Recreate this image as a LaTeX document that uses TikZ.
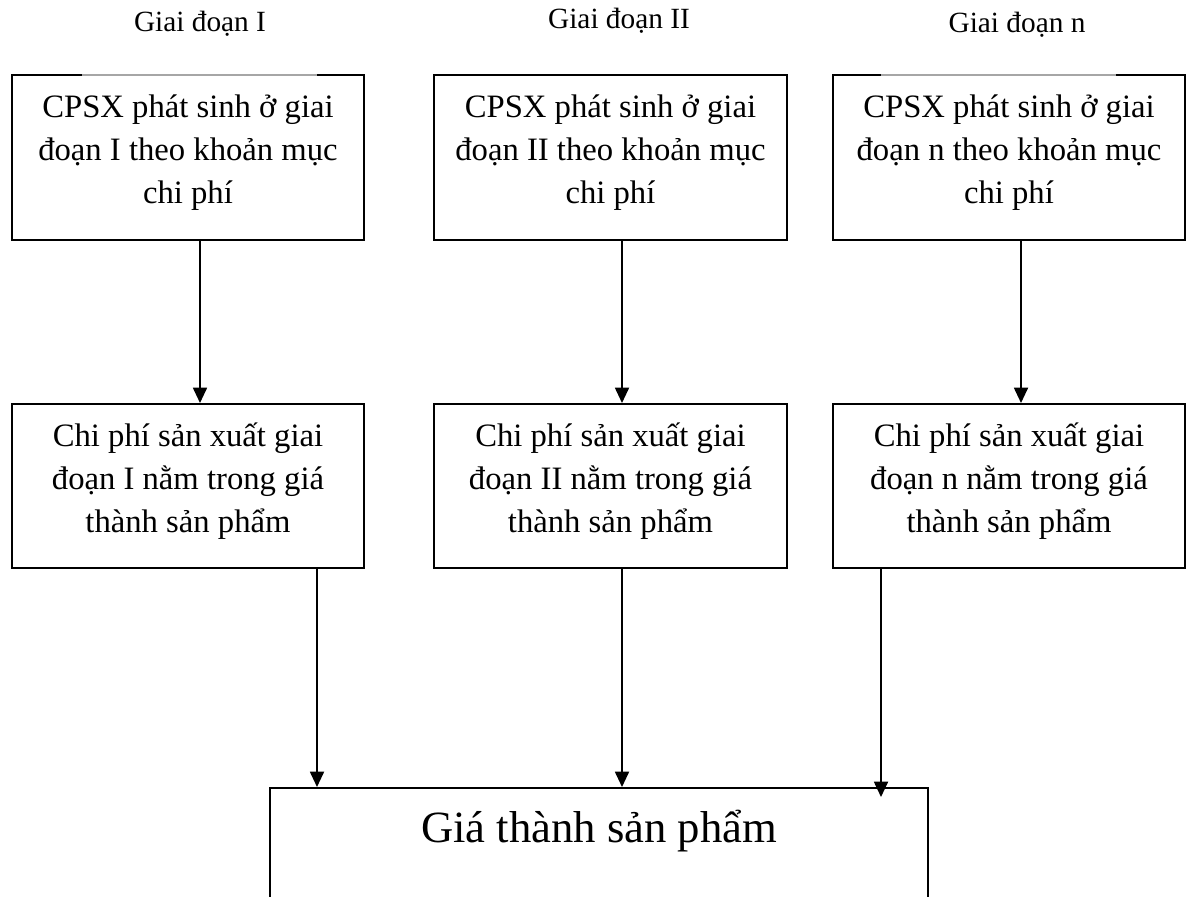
\documentclass[tikz,border=0pt]{standalone}
\usepackage{fontspec}
\setmainfont{Liberation Serif}
\usetikzlibrary{arrows.meta}
\newlength\pxu
\setlength\pxu{0.75pt}

\begin{document}
\begin{tikzpicture}[x=0.75pt, y=-0.75pt,
  box/.style={draw=black, line width=2*\pxu, rectangle, inner sep=0pt},
  stagebox/.style={box, minimum width=352*\pxu, minimum height=165*\pxu},
  boxtext/.style={align=center, inner sep=0pt, font=\fontsize{24.5}{32.25}\selectfont},
  stagelabel/.style={inner sep=0pt, font=\fontsize{22}{27}\selectfont},
  arr/.style={draw=black, line width=1.8*\pxu, -{Triangle[length=11.5pt, width=10.5pt]}}
]
\useasboundingbox (0,0) rectangle (1187,896);

% stage titles
\node[stagelabel] (l1) at (200,24) {Giai đoạn I};
\node[stagelabel] (l2) at (619,21) {Giai đoạn II};
\node[stagelabel] (l3) at (1017,25) {Giai đoạn n};

% costs incurred in each stage
\node[stagebox] (t1) at (188,157.5) {};
\node[stagebox, minimum width=353*\pxu] (t2) at (610.5,157.5) {};
\node[stagebox] (t3) at (1009,157.5) {};
\draw[white, line width=2.2*\pxu] (82,75) -- (317,75);
\draw[gray!70, line width=1.3*\pxu] (82,75) -- (317,75);
\draw[white, line width=2.2*\pxu] (881,75) -- (1116,75);
\draw[gray!70, line width=1.3*\pxu] (881,75) -- (1116,75);

\node[boxtext] (t1x) at (188,153) {CPSX phát sinh ở giai\\đoạn I theo khoản mục\\chi phí};
\node[boxtext] (t2x) at (610.5,153) {CPSX phát sinh ở giai\\đoạn II theo khoản mục\\chi phí};
\node[boxtext] (t3x) at (1009,153) {CPSX phát sinh ở giai\\đoạn n theo khoản mục\\chi phí};

% stage costs carried into the product cost
\node[stagebox, minimum height=164*\pxu] (m1) at (188,486) {};
\node[stagebox, minimum width=353*\pxu, minimum height=164*\pxu] (m2) at (610.5,486) {};
\node[stagebox, minimum height=164*\pxu] (m3) at (1009,486) {};

\node[boxtext] (m1x) at (188,481) {Chi phí sản xuất giai\\đoạn I nằm trong giá\\thành sản phẩm};
\node[boxtext] (m2x) at (610.5,481) {Chi phí sản xuất giai\\đoạn II nằm trong giá\\thành sản phẩm};
\node[boxtext] (m3x) at (1009,481) {Chi phí sản xuất giai\\đoạn n nằm trong giá\\thành sản phẩm};

% product cost
\node[box, minimum width=658*\pxu, minimum height=130*\pxu] (g) at (599,853) {};
\node[inner sep=0pt, anchor=base, font=\fontsize{33.5}{40}\selectfont] (gx) at (599,842) {Giá thành sản phẩm};

% connectors
\draw[arr] ([xshift=12*\pxu]t1.south) -- ([xshift=12*\pxu]m1.north);
\draw[arr] ([xshift=11.5*\pxu]t2.south) -- ([xshift=11.5*\pxu]m2.north);
\draw[arr] ([xshift=12*\pxu]t3.south) -- ([xshift=12*\pxu]m3.north);

\draw[arr] ([xshift=129*\pxu]m1.south) -- ([xshift=129*\pxu]m1.south |- g.north);
\draw[arr] ([xshift=11.5*\pxu]m2.south) -- ([xshift=11.5*\pxu]m2.south |- g.north);
\draw[arr] ([xshift=-128*\pxu]m3.south) -- ([xshift=-128*\pxu,yshift=-10*\pxu]m3.south |- g.north);
\end{tikzpicture}
\end{document}
